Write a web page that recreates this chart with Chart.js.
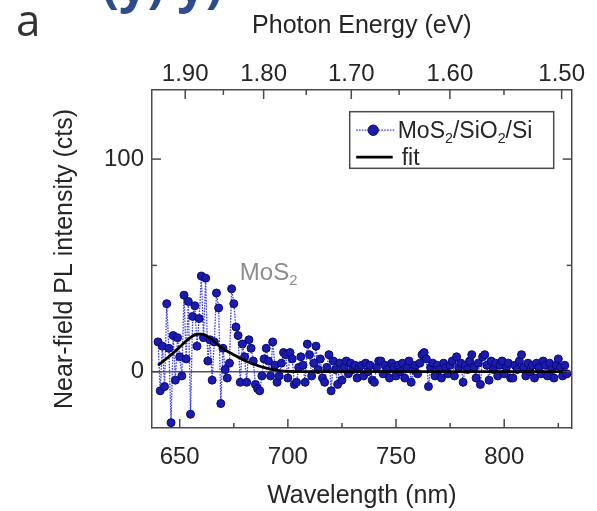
<!DOCTYPE html>
<html>
<head>
<meta charset="utf-8">
<title>Near-field PL spectrum</title>
<script src="https://cdn.jsdelivr.net/npm/chart.js@4.4.1/dist/chart.umd.min.js"></script>
<style>
  html, body { margin: 0; padding: 0; background: #fff; }
  #wrap { width: 597px; height: 511px; position: relative; }
</style>
</head>
<body>
<div id="wrap"><canvas id="plChart"></canvas></div>
<script>
/* ---- data ---- */
const wavelength = [
  640, 641, 642, 643, 644, 645, 646, 647, 648, 649,
  650, 651, 652, 653, 654, 655, 656, 657, 658, 659,
  660, 661, 662, 663, 664, 665, 666, 667, 668, 669,
  670, 671, 672, 673, 674, 675, 676, 677, 678, 679,
  680, 681, 682, 683, 684, 685, 686, 687, 688, 689,
  690, 691, 692, 693, 694, 695, 696, 697, 698, 699,
  700, 701, 702, 703, 704, 705, 706, 707, 708, 709,
  710, 711, 712, 713, 714, 715, 716, 717, 718, 719,
  720, 721, 722, 723, 724, 725, 726, 727, 728, 729,
  730, 731, 732, 733, 734, 735, 736, 737, 738, 739,
  740, 741, 742, 743, 744, 745, 746, 747, 748, 749,
  750, 751, 752, 753, 754, 755, 756, 757, 758, 759,
  760, 761, 762, 763, 764, 765, 766, 767, 768, 769,
  770, 771, 772, 773, 774, 775, 776, 777, 778, 779,
  780, 781, 782, 783, 784, 785, 786, 787, 788, 789,
  790, 791, 792, 793, 794, 795, 796, 797, 798, 799,
  800, 801, 802, 803, 804, 805, 806, 807, 808, 809,
  810, 811, 812, 813, 814, 815, 816, 817, 818, 819,
  820, 821, 822, 823, 824, 825, 826, 827, 828, 829
];
const intensity = [
  14, -9, 12, -7, 32, 11, -24, 17, -4, 16,
  7, -2, 36, 6, 33, -20, 26, 31, 12, 25,
  45, 16, 44, 5, 15, -4, 14, 37, 30, -15,
  11, 1, -3, 4, 39, 32, 21, 17, -5, 13,
  7, -5, 15, 11, 5, -6, -8, -9, -2, 6,
  11, 5, -2, 14, 3, -5, -2, 4, 9, 8,
  -3, 9, 6, -6, -5, 2, 7, 3, -5, 13,
  8, -2, 4, 12, 1, 6, -3, -5, 2, 8,
  -9, 5, 1, -6, 4, -4, 2, 5, -1, 4,
  1, 3, -3, 2, 3, -2, 4, 0, 3, -4,
  -5, 2, 5, 5, -1, 3, 1, -3, 4, 2,
  -2, 3, 0, 4, -3, 2, 5, -5, 1, 3,
  -1, 4, 8, 9, 6, -7, 2, 4, -2, 3,
  1, -3, 4, 2, -1, 3, 5, -2, 7, 2,
  4, -5, 3, 1, 5, 8, 2, -3, 4, -6,
  7, 8, 3, -4, 5, 1, 4, -2, 3, 5,
  -1, 2, 4, -3, -3, 3, 1, 5, 8, 2,
  -2, 4, 0, 3, -3, 4, 2, -1, 5, 3,
  -2, 4, 1, -3, 3, 6, 2, -2, 3, -1
];
const fitWavelength = [
  640, 642, 644, 646, 648, 650, 652, 654, 656, 658,
  660, 662, 664, 666, 668, 670, 672, 674, 676, 678,
  680, 682, 684, 686, 688, 690, 692, 694, 696, 698,
  700, 710, 720, 730, 740, 750, 760, 770, 780, 790,
  800, 810, 820, 829
];
const fitIntensity = [
  3.1, 4.6, 6.2, 7.9, 9.7, 11.6, 13.5, 15.3, 16.8, 17.6,
  17.7, 17.0, 15.8, 14.2, 12.4, 10.9, 9.6, 8.5, 7.4, 6.3,
  5.3, 4.4, 3.6, 2.9, 2.2, 1.7, 1.2, 0.8, 0.5, 0.3,
  0.1, 0, 0, 0, 0, 0, 0, 0, 0, 0,
  0, 0, 0, 0
];

/* ticks */
const wlTicks = [650, 675, 700, 725, 750, 775, 800, 825];
const wlLabels = [650, 700, 750, 800];
const energyTicks = [1.90, 1.85, 1.80, 1.75, 1.70, 1.65, 1.60, 1.55, 1.50];
const energyLabels = [1.90, 1.80, 1.70, 1.60, 1.50];
const yTicks = [0, 50, 100];
const yLabels = [0, 100];

/* ---- look ---- */
const FONT = "'Liberation Sans', Arial, sans-serif";
const TXT = '#262626';
const FRAME = '#4a4a4a';
const HC_EV_NM = 1239.84;   // photon energy <-> wavelength

const X_MIN = 637.2, X_MAX = 831.2;
const Y_MIN = -26.5, Y_MAX = 132.5;

// draw text, runs of subscript digits drawn smaller and lower
function drawRich(ctx, text, x, y, size) {
  const subs = '₀₁₂₃₄₅₆₇₈₉';
  let run = '', runSub = false;
  const flush = () => {
    if (!run) return;
    const fs = runSub ? size * 0.62 : size;
    ctx.font = fs + 'px ' + FONT;
    ctx.fillText(run, x, runSub ? y + size * 0.2 : y);
    x += ctx.measureText(run).width;
    run = '';
  };
  for (const ch of text) {
    const i = subs.indexOf(ch);
    const isSub = i >= 0;
    if (isSub !== runSub) { flush(); runSub = isSub; }
    run += isSub ? String(i) : ch;
  }
  flush();
}

const decorations = {
  id: 'decorations',
  afterDatasetsDraw(chart) {
    const { ctx, chartArea: a, scales } = chart;
    ctx.save();

    // inward tick marks on all four sides
    ctx.strokeStyle = FRAME;
    ctx.lineWidth = 1.5;
    const dirs = { x: [0, -1], x2: [0, 1], y: [1, 0], y2: [-1, 0] };
    Object.keys(dirs).forEach(id => {
      const s = scales[id];
      const [dx, dy] = dirs[id];
      s.ticks.forEach(t => {
        const len = t.isMajor ? 9 : 5;
        const p = s.getPixelForValue(t.value);
        let x0, y0;
        if (s.isHorizontal()) {
          x0 = p; y0 = id === 'x' ? a.bottom : a.top;
        } else {
          y0 = p; x0 = id === 'y' ? a.left : a.right;
        }
        ctx.beginPath();
        ctx.moveTo(x0, y0);
        ctx.lineTo(x0 + dx * len, y0 + dy * len);
        ctx.stroke();
      });
    });

    // peak annotation
    ctx.fillStyle = '#8c8c8c';
    ctx.textAlign = 'left';
    ctx.textBaseline = 'alphabetic';
    drawRich(ctx, 'MoS₂', scales.x.getPixelForValue(677.8), scales.y.getPixelForValue(43), 24);

    // legend box, top right inside the plot
    const ds = chart.data.datasets;
    const bx = a.right - 222, by = a.top + 21.7, bw = 204, bh = 56.6;
    ctx.fillStyle = '#fff';
    ctx.fillRect(bx, by, bw, bh);
    ctx.strokeStyle = FRAME;
    ctx.lineWidth = 1.5;
    ctx.strokeRect(bx, by, bw, bh);

    const rows = [by + 18.5, by + 46.5];
    // row 1: dotted line + dot
    ctx.strokeStyle = ds[1].borderColor;
    ctx.lineWidth = 1.3;
    ctx.setLineDash(ds[1].borderDash);
    ctx.beginPath();
    ctx.moveTo(bx + 6.5, rows[0]);
    ctx.lineTo(bx + 45, rows[0]);
    ctx.stroke();
    ctx.setLineDash([]);
    ctx.beginPath();
    ctx.arc(bx + 23.5, rows[0], 5.2, 0, Math.PI * 2);
    ctx.fillStyle = ds[1].pointBackgroundColor;
    ctx.fill();
    ctx.strokeStyle = ds[1].pointBorderColor;
    ctx.lineWidth = 1;
    ctx.stroke();
    ctx.fillStyle = TXT;
    drawRich(ctx, ds[1].label, bx + 48, rows[0] + 8, 23);

    // row 2: fit line
    ctx.strokeStyle = ds[0].borderColor;
    ctx.lineWidth = ds[0].borderWidth;
    ctx.beginPath();
    ctx.moveTo(bx + 6.5, rows[1] - 1);
    ctx.lineTo(bx + 43, rows[1] - 1);
    ctx.stroke();
    ctx.fillStyle = TXT;
    drawRich(ctx, ds[0].label, bx + 52, rows[1] + 7, 23);

    ctx.restore();
  },
  afterDraw(chart) {
    const { ctx } = chart;
    ctx.save();
    // panel letter
    ctx.fillStyle = '#333';
    ctx.font = "44px 'Open Sans', sans-serif";
    ctx.textBaseline = 'alphabetic';
    ctx.fillText('a', 16, 36);
    // cut-off heading above the panel
    ctx.fillStyle = '#2e4c8c';
    ctx.font = "bold 50px 'Open Sans', sans-serif";
    ctx.fillText('(y) y)', 102, 2);
    ctx.restore();
  }
};

const ctx = document.getElementById('plChart');

new Chart(ctx, {
  type: 'line',
  data: {
    datasets: [
      {
        label: 'fit',
        data: fitWavelength.map((w, i) => ({ x: w, y: fitIntensity[i] })),
        borderColor: '#000',
        borderWidth: 2.8,
        pointRadius: 0,
        tension: 0.4,
        cubicInterpolationMode: 'monotone',
        order: 0
      },
      {
        label: 'MoS₂/SiO₂/Si',
        data: wavelength.map((w, i) => ({ x: w, y: intensity[i] })),
        borderColor: '#3d3dff',
        borderWidth: 1.3,
        borderDash: [1.6, 1.2],
        pointRadius: 4,
        pointBackgroundColor: '#1c1cac',
        pointBorderColor: '#08087c',
        pointBorderWidth: 1,
        tension: 0,
        order: 1
      }
    ]
  },
  options: {
    responsive: true,
    maintainAspectRatio: false,
    animation: false,
    layout: { padding: 0 },
    plugins: {
      legend: { display: false },
      tooltip: { enabled: false }
    },
    scales: {
      x: {
        type: 'linear',
        position: 'bottom',
        min: X_MIN,
        max: X_MAX,
        afterBuildTicks: s => { s.ticks = wlTicks.map(v => ({ value: v, isMajor: wlLabels.includes(v) })); },
        afterFit: s => { s.height = 83; },
        grid: { display: false, drawTicks: false },
        border: { display: true, color: FRAME, width: 1.5 },
        ticks: {
          autoSkip: false, maxRotation: 0, padding: 15, color: TXT,
          font: { family: FONT, size: 24 },
          callback: v => wlLabels.includes(v) ? String(v) : ''
        },
        title: {
          display: true, text: 'Wavelength (nm)', color: TXT,
          font: { family: FONT, size: 25 }, padding: { top: 0, bottom: 0 }
        }
      },
      x2: {
        type: 'linear',
        position: 'top',
        min: X_MIN,
        max: X_MAX,
        afterBuildTicks: s => {
          s.ticks = energyTicks.map(e => ({ value: HC_EV_NM / e, isMajor: energyLabels.includes(e) }));
        },
        afterFit: s => { s.height = 90; },
        grid: { display: false, drawTicks: false },
        border: { display: true, color: FRAME, width: 1.5 },
        ticks: {
          autoSkip: false, maxRotation: 0, padding: 1, color: TXT,
          font: { family: FONT, size: 24 },
          callback: (v, i) => energyLabels.includes(energyTicks[i]) ? energyTicks[i].toFixed(2) : ''
        },
        title: {
          display: true, text: 'Photon Energy (eV)', color: TXT,
          font: { family: FONT, size: 25 }, padding: { top: 11, bottom: 0 }
        }
      },
      y: {
        type: 'linear',
        position: 'left',
        min: Y_MIN,
        max: Y_MAX,
        afterBuildTicks: s => { s.ticks = yTicks.map(v => ({ value: v, isMajor: yLabels.includes(v) })); },
        afterFit: s => { s.width = 152; },
        grid: {
          display: true, drawOnChartArea: true, drawTicks: false, lineWidth: 1.5,
          color: c => (c.tick && c.tick.value === 0) ? '#555' : 'rgba(0,0,0,0)'
        },
        border: { display: true, color: FRAME, width: 1.5 },
        ticks: {
          autoSkip: false, padding: 8, color: TXT,
          font: { family: FONT, size: 24 },
          callback: v => yLabels.includes(v) ? String(v) : ''
        },
        title: {
          display: true, text: 'Near-field PL intensity (cts)', color: TXT,
          font: { family: FONT, size: 25 }, padding: { top: 50, bottom: 0 }
        }
      },
      y2: {
        type: 'linear',
        position: 'right',
        min: Y_MIN,
        max: Y_MAX,
        afterBuildTicks: s => { s.ticks = yTicks.map(v => ({ value: v, isMajor: yLabels.includes(v) })); },
        afterFit: s => { s.width = 25.3; },
        grid: { display: false, drawTicks: false },
        border: { display: true, color: FRAME, width: 1.5 },
        ticks: { display: false }
      }
    }
  },
  plugins: [decorations]
});
</script>
</body>
</html>
